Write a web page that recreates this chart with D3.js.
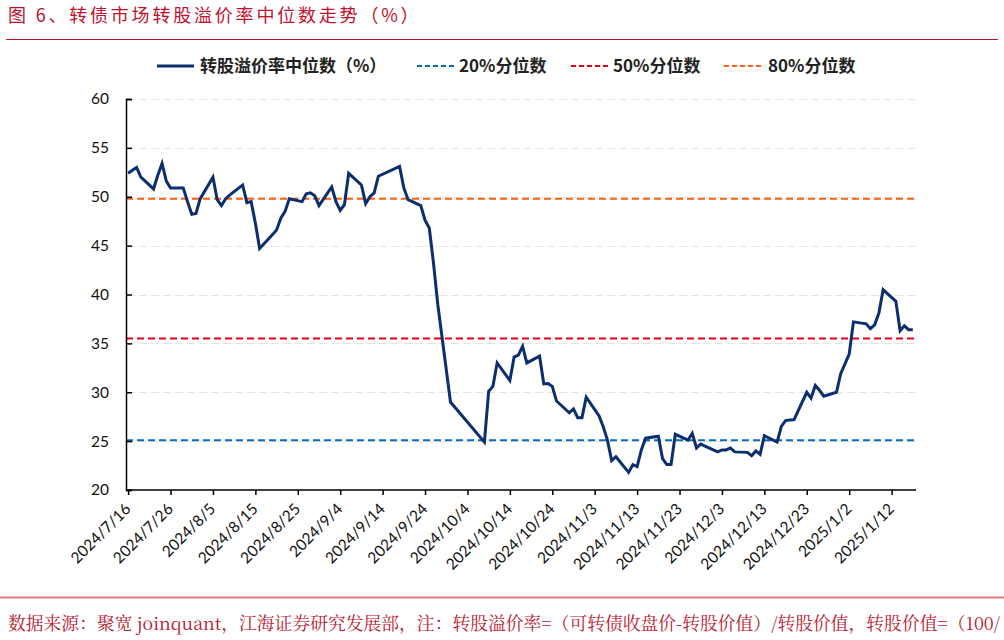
<!DOCTYPE html>
<html><head><meta charset="utf-8">
<script src="https://cdn.jsdelivr.net/npm/d3@7"></script>
<style>
html,body{margin:0;padding:0;background:#fff;}
svg{display:block;}
</style></head>
<body>
<svg id="chart" width="1004" height="640"></svg>
<script>
const dates = [
"2024-07-16","2024-07-17","2024-07-18","2024-07-19","2024-07-22","2024-07-23","2024-07-24","2024-07-25","2024-07-26",
"2024-07-29","2024-07-30","2024-07-31","2024-08-01","2024-08-02",
"2024-08-05","2024-08-06","2024-08-07","2024-08-08","2024-08-09",
"2024-08-12","2024-08-13","2024-08-14","2024-08-15","2024-08-16",
"2024-08-19","2024-08-20","2024-08-21","2024-08-22","2024-08-23",
"2024-08-26","2024-08-27","2024-08-28","2024-08-29","2024-08-30",
"2024-09-02","2024-09-03","2024-09-04","2024-09-05","2024-09-06",
"2024-09-09","2024-09-10","2024-09-11","2024-09-12","2024-09-13",
"2024-09-18","2024-09-19","2024-09-20",
"2024-09-23","2024-09-24","2024-09-25","2024-09-26","2024-09-27",
"2024-09-30",
"2024-10-08","2024-10-09","2024-10-10","2024-10-11",
"2024-10-14","2024-10-15","2024-10-16","2024-10-17","2024-10-18",
"2024-10-21","2024-10-22","2024-10-23","2024-10-24","2024-10-25",
"2024-10-28","2024-10-29","2024-10-30","2024-10-31","2024-11-01",
"2024-11-04","2024-11-05","2024-11-06","2024-11-07","2024-11-08",
"2024-11-11","2024-11-12","2024-11-13","2024-11-14","2024-11-15",
"2024-11-18","2024-11-19","2024-11-20","2024-11-21","2024-11-22",
"2024-11-25","2024-11-26","2024-11-27","2024-11-28","2024-11-29",
"2024-12-02","2024-12-03","2024-12-04","2024-12-05","2024-12-06",
"2024-12-09","2024-12-10","2024-12-11","2024-12-12","2024-12-13",
"2024-12-16","2024-12-17","2024-12-18","2024-12-19","2024-12-20",
"2024-12-23","2024-12-24","2024-12-25","2024-12-26","2024-12-27",
"2024-12-30","2024-12-31","2025-01-02","2025-01-03",
"2025-01-06","2025-01-07","2025-01-08","2025-01-09","2025-01-10",
"2025-01-13","2025-01-14","2025-01-15","2025-01-16","2025-01-17"
];
const premiumMedian = [
52.4,52.7,53.0,52.0,50.8,52.2,53.4,51.6,50.9,
50.9,49.5,48.2,48.3,49.8,
52.0,49.7,49.1,49.8,50.2,
51.2,49.4,49.5,47.3,44.7,
46.1,46.6,47.8,48.5,49.8,
49.5,50.3,50.4,50.1,49.1,
51.0,49.5,48.6,49.2,52.4,
51.2,49.3,50.0,50.4,52.1,
53.1,50.9,49.7,
49.1,47.6,46.8,43.2,39.0,
29.0,
24.9,30.1,30.6,33.0,
31.2,33.6,33.8,34.7,33.0,
33.7,30.85,30.9,30.6,29.1,
27.9,28.3,27.4,27.4,29.5,
27.6,26.5,25.1,23.0,23.4,
21.8,22.6,22.4,24.1,25.3,
25.5,23.2,22.6,22.6,25.7,
25.1,25.8,24.3,24.7,24.5,
23.9,24.1,24.1,24.3,23.9,
23.85,23.5,24.0,23.65,25.55,
24.9,26.5,27.1,27.15,27.2,
30.0,29.4,30.7,30.2,29.6,
30.0,31.9,33.9,37.2,
37.0,36.5,36.9,38.1,40.5,
39.3,36.3,36.8,36.4,36.4
];
const pct20 = 25.1;
const pct50 = 35.5;
const pct80 = 49.8;
const yTicks = [20,25,30,35,40,45,50,55,60];
const xTickLabels = ["2024/7/16","2024/7/26","2024/8/5","2024/8/15","2024/8/25","2024/9/4","2024/9/14","2024/9/24","2024/10/4","2024/10/14","2024/10/24","2024/11/3","2024/11/13","2024/11/23","2024/12/3","2024/12/13","2024/12/23","2025/1/2","2025/1/12"];
const legendLabels = ["转股溢价率中位数（%）","20%分位数","50%分位数","80%分位数"];
const titleText = "图 6、转债市场转股溢价率中位数走势（%）";
const sourceText = "数据来源：聚宽 joinquant，江海证券研究发展部，注：转股溢价率=（可转债收盘价-转股价值）/转股价值，转股价值=（100/";

const svg = d3.select("#chart");
const parse = d3.timeParse("%Y-%m-%d");
const parseTick = d3.timeParse("%Y/%m/%d");
const data = dates.map((d,i)=>({date:parse(d), v:premiumMedian[i]}));

const x = d3.scaleTime()
  .domain([new Date(2024,6,15,12), new Date(2025,0,17,18)])
  .range([126, 916]);
const y = d3.scaleLinear().domain([20,60]).range([490,99]);

const red = "#c0102c";
// title
svg.append("text").attr("x",8).attr("y",22)
  .attr("font-family","'Noto Sans CJK SC', sans-serif").attr("font-size",18)
  .attr("letter-spacing",2.8).attr("fill",red).text(titleText);
svg.append("line").attr("x1",6).attr("x2",998).attr("y1",39.5).attr("y2",39.5)
  .attr("stroke",red).attr("stroke-width",1);
// bottom line
svg.append("line").attr("x1",0).attr("x2",1004).attr("y1",597.5).attr("y2",597.5)
  .attr("stroke","#e07a7a").attr("stroke-width",2);
svg.append("text").attr("x",8).attr("y",630)
  .attr("font-family","'Noto Serif CJK SC','DejaVu Serif','Noto Sans CJK SC', serif").attr("font-size",17.8)
  .attr("fill","#b8182e").text(sourceText);

// gridlines
svg.append("g").selectAll("line").data(yTicks.filter(t=>t>20)).join("line")
  .attr("x1",127).attr("x2",916).attr("y1",d=>Math.round(y(d))+0.5).attr("y2",d=>Math.round(y(d))+0.5)
  .attr("stroke","#e3e3e3").attr("stroke-width",1).attr("stroke-dasharray","8,4");

// reference lines
const refs = [
  {v:pct20, c:"#0b6cbf"},
  {v:pct50, c:"#e3001b"},
  {v:pct80, c:"#ff5f0f"}
];
svg.append("g").selectAll("line").data(refs).join("line")
  .attr("x1",126).attr("x2",916).attr("y1",d=>y(d.v)).attr("y2",d=>y(d.v))
  .attr("stroke",d=>d.c).attr("stroke-width",2).attr("stroke-dasharray","7,4");

// line
const line = d3.line().x(d=>x(d.date)).y(d=>y(d.v));
svg.append("path").datum(data).attr("d",line)
  .attr("fill","none").attr("stroke","#0b2f6e").attr("stroke-width",3)
  .attr("stroke-linejoin","miter");

// y axis
const yAxis = d3.axisLeft(y).tickValues(yTicks).tickSize(-6).tickPadding(17).tickFormat(d3.format("d"));
const gy = svg.append("g").attr("transform","translate(126,0)").call(yAxis);
gy.select(".domain").attr("stroke","#000").attr("stroke-width",1.5);
gy.selectAll(".tick line").attr("stroke","#000").attr("stroke-width",1.5);
gy.selectAll("text").attr("font-family","Lato, 'Open Sans', sans-serif").attr("font-size",15.5).attr("fill","#111");

// x axis
const xTicks = xTickLabels.map(s=>parseTick(s));
const xAxis = d3.axisBottom(x).tickValues(xTicks).tickSize(5).tickFormat((d,i)=>xTickLabels[i]);
const gx = svg.append("g").attr("transform","translate(0,490)").call(xAxis);
gx.select(".domain").attr("stroke","#000").attr("stroke-width",1.5).attr("d","M126,0H916");
gx.selectAll(".tick line").attr("stroke","#000").attr("stroke-width",1.5);
gx.selectAll("text").attr("font-family","Lato, 'Open Sans', sans-serif").attr("font-size",15.5).attr("fill","#111")
  .attr("text-anchor","end").attr("dy",0).attr("y",0)
  .attr("transform","translate(3,20) rotate(-45)");

// legend
const lg = svg.append("g").attr("font-family","'Noto Sans CJK SC', sans-serif").attr("font-size",17).attr("font-weight","bold").attr("fill","#222");
const legendItems = [
  {x1:157,x2:194,tx:200,c:"#0b2f6e",dash:null,w:3},
  {x1:417,x2:455,tx:459,c:"#0b6cbf",dash:"5,3",w:2},
  {x1:571,x2:608,tx:613,c:"#e3001b",dash:"5,3",w:2},
  {x1:724,x2:762,tx:768,c:"#ff5f0f",dash:"5,3",w:2}
];
legendItems.forEach((it,i)=>{
  lg.append("line").attr("x1",it.x1).attr("x2",it.x2).attr("y1",66).attr("y2",66)
    .attr("stroke",it.c).attr("stroke-width",it.w).attr("stroke-dasharray",it.dash);
  lg.append("text").attr("x",it.tx).attr("y",72).text(legendLabels[i]);
});
</script>
</body></html>
